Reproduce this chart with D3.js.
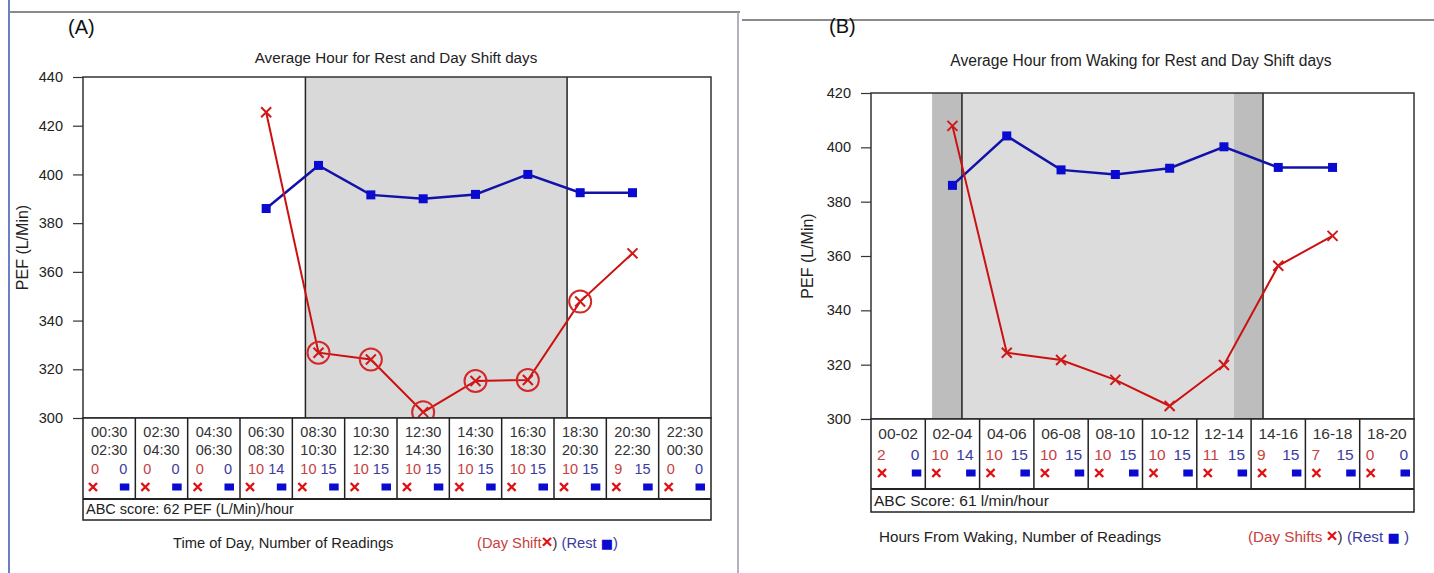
<!DOCTYPE html>
<html><head><meta charset="utf-8">
<script src="https://cdn.jsdelivr.net/npm/d3@7"></script>
<style>
body{margin:0;background:#fff}
svg{display:block}
text{font-family:"Liberation Sans",Arial,sans-serif}
</style>
</head><body>
<svg id="c" width="1434" height="573"></svg>
<script>
// ---------------- Panel A data ----------------
const aTitle = "Average Hour for Rest and Day Shift days";
const aFrom = ["00:30","02:30","04:30","06:30","08:30","10:30","12:30","14:30","16:30","18:30","20:30","22:30"];
const aTo   = ["02:30","04:30","06:30","08:30","10:30","12:30","14:30","16:30","18:30","20:30","22:30","00:30"];
const aDayCount  = [0,0,0,10,10,10,10,10,10,10,9,0];
const aRestCount = [0,0,0,14,15,15,15,15,15,15,15,0];
const aDayShift  = [null,null,null,425.5,326.8,324.0,302.4,315.2,315.6,347.8,367.6,null];
const aRest      = [null,null,null,386.0,403.7,391.6,390.0,391.8,400.0,392.5,392.5,null];
const aCircled   = [false,false,false,false,true,true,true,true,true,true,false,false];
const aYTicks = [300,320,340,360,380,400,420,440];
const aShift = [9, 19];            // shift hours (clock)
const aScore = "ABC score: 62 PEF (L/Min)/hour";
const aXLabel = "Time of Day, Number of Readings";

// ---------------- Panel B data ----------------
const bTitle = "Average Hour from Waking for Rest and Day Shift days";
const bLabels = ["00-02","02-04","04-06","06-08","08-10","10-12","12-14","14-16","16-18","18-20"];
const bDayCount  = [2,10,10,10,10,10,11,9,7,0];
const bRestCount = [0,14,15,15,15,15,15,15,15,0];
const bDayShift  = [null,407.9,324.4,321.7,314.4,304.8,319.9,356.4,367.4,null];
const bRest      = [null,386.0,404.2,391.7,390.0,392.3,400.2,392.6,392.6,null];
const bYTicks = [300,320,340,360,380,400,420];
const bShiftOuter = [2.25, 14.44];  // hours from waking (range)
const bShiftInner = [3.35, 13.37];  // hours from waking (mean)
const bScore = "ABC Score: 61 l/min/hour";
const bXLabel = "Hours From Waking, Number of Readings";

const svg = d3.select("#c");
const RED = "#d01818", BLUE = "#0a0ad0", REDLINE = "#cc1010", BLUELINE = "#1212a8";
const RED_TXT = "#c84040", BLUE_TXT = "#3a3aa0";

// page frame lines
svg.append("line").attr("x1",9).attr("x2",9).attr("y1",0).attr("y2",573).attr("stroke","#3a55b0").attr("stroke-width",1.5);
svg.append("line").attr("x1",9).attr("x2",740).attr("y1",12).attr("y2",12).attr("stroke","#8a8a8a").attr("stroke-width",2);
svg.append("line").attr("x1",738).attr("x2",738).attr("y1",12).attr("y2",573).attr("stroke","#9a9aa8").attr("stroke-width",1.5);
svg.append("line").attr("x1",742).attr("x2",1434).attr("y1",20).attr("y2",20).attr("stroke","#8a8a8a").attr("stroke-width",2);

function xMark(g, cx, cy, s, color, w){
  g.append("path").attr("d",`M${cx-s},${cy-s}L${cx+s},${cy+s}M${cx-s},${cy+s}L${cx+s},${cy-s}`)
   .attr("stroke",color).attr("stroke-width",w).attr("fill","none");
}

function drawPanel(p){
  const g = svg.append("g");
  const n = p.rows[0].length;
  const x = d3.scaleLinear().domain(p.hourDomain).range([p.left, p.right]);
  const y = d3.scaleLinear().domain(d3.extent(p.yTicks)).range([p.bottom, p.top]);
  const colStart = i => p.hourDomain[0] + 2*i;
  const colMid = i => colStart(i) + 1;

  // shading
  p.bands.forEach(b => {
    g.append("rect").attr("x",x(b[0])).attr("y",p.top).attr("width",x(b[1])-x(b[0])).attr("height",p.bottom-p.top).attr("fill",b[2]);
  });
  p.vlines.forEach(h => {
    g.append("line").attr("x1",x(h)).attr("x2",x(h)).attr("y1",p.top).attr("y2",p.bottom).attr("stroke","#222").attr("stroke-width",1.5);
  });
  g.append("rect").attr("x",p.left).attr("y",p.top).attr("width",p.right-p.left).attr("height",p.bottom-p.top)
    .attr("fill","none").attr("stroke","#333").attr("stroke-width",1.5);

  // y axis
  const ax = g.append("g").attr("transform",`translate(${p.left},0)`)
    .call(d3.axisLeft(y).tickValues(p.yTicks).tickSize(10).tickPadding(10).tickFormat(d3.format("d")));
  ax.select(".domain").remove();
  ax.selectAll(".tick line").attr("stroke","#333").attr("stroke-width",1.2);
  ax.selectAll(".tick text").attr("font-size",14.5).attr("fill","#222").attr("font-family","Liberation Sans, Arial, sans-serif");

  // y label
  g.append("text").attr("transform",`translate(${p.yLabelX},${(p.top+p.bottom)/2 + p.yLabelDy}) rotate(-90)`)
    .attr("text-anchor","middle").attr("font-size",16).attr("fill","#222").text("PEF  (L/Min)");

  // title and panel letter
  g.append("text").attr("x",p.titleX).attr("y",p.titleY).attr("text-anchor","middle").attr("font-size",p.titleSize).attr("fill","#222").text(p.title);
  g.append("text").attr("x",p.letterX).attr("y",p.letterY).attr("font-size",20).attr("fill","#111").text(p.letter);

  // lines
  const line = d3.line().defined(d => d.v != null).x(d => x(d.h)).y(d => y(d.v));
  const restPts = p.rest.map((v,i) => ({h: colMid(i), v}));
  const dayPts = p.day.map((v,i) => ({h: colMid(i), v}));
  g.append("path").datum(restPts).attr("d",line).attr("fill","none").attr("stroke",BLUELINE).attr("stroke-width",2.5);
  g.append("path").datum(dayPts).attr("d",line).attr("fill","none").attr("stroke",REDLINE).attr("stroke-width",2);
  restPts.filter(d => d.v != null).forEach(d => {
    g.append("rect").attr("x",x(d.h)-4.5).attr("y",y(d.v)-4.5).attr("width",9).attr("height",9).attr("fill",BLUE);
  });
  dayPts.forEach((d,i) => {
    if (d.v == null) return;
    xMark(g, x(d.h), y(d.v), 5, RED, 2);
    if (p.circled && p.circled[i]) {
      g.append("circle").attr("cx",x(d.h)).attr("cy",y(d.v)).attr("r",11).attr("fill","none").attr("stroke","#d42828").attr("stroke-width",2);
    }
  });

  // table
  const t = g.append("g");
  t.append("rect").attr("x",p.left).attr("y",p.bottom).attr("width",p.right-p.left).attr("height",p.tableBottom-p.bottom)
    .attr("fill","#fff").attr("stroke","#222").attr("stroke-width",1.5);
  t.append("line").attr("x1",p.left).attr("x2",p.right).attr("y1",p.cellBottom).attr("y2",p.cellBottom).attr("stroke","#222").attr("stroke-width",2);
  for (let i = 1; i < n; i++) {
    t.append("line").attr("x1",x(colStart(i))).attr("x2",x(colStart(i))).attr("y1",p.bottom).attr("y2",p.cellBottom).attr("stroke","#222").attr("stroke-width",1.5);
  }
  for (let i = 0; i < n; i++) {
    const x0 = x(colStart(i)), x1 = x(colStart(i)+2), xm = (x0+x1)/2;
    p.rows.forEach((r, k) => {
      t.append("text").attr("x",xm).attr("y",p.rowY[k]).attr("text-anchor","middle").attr("font-size",p.tSize).attr("fill","#333").text(r[i]);
    });
    t.append("text").attr("x",x0+p.numPad).attr("y",p.numY).attr("font-size",p.tSize).attr("fill",RED_TXT).text(p.dayCount[i]);
    t.append("text").attr("x",x1-p.numPad).attr("y",p.numY).attr("text-anchor","end").attr("font-size",p.tSize).attr("fill",BLUE_TXT).text(p.restCount[i]);
    xMark(t, x0+p.markPadL, p.markY, 4, "#e01010", 2.4);
    t.append("rect").attr("x",x1-p.markPadR-4.5).attr("y",p.markY-3.5).attr("width",9.5).attr("height",7).attr("fill",BLUE);
  }
  t.append("text").attr("x",p.left+3).attr("y",p.scoreY).attr("font-size",p.tSize).attr("fill","#222").text(p.score);

  // x label and legend
  g.append("text").attr("x",p.xLabelX).attr("y",p.xLabelY).attr("font-size",p.xSize).attr("fill","#222").text(p.xLabel);
  const lg = g.append("text").attr("x",p.legendX).attr("y",p.xLabelY).attr("font-size",p.xSize);
  lg.append("tspan").attr("fill",RED_TXT).text(p.legendDay);
  lg.append("tspan").attr("fill","#e01010").attr("font-weight","bold").attr("font-size",19).text("\u00D7");
  lg.append("tspan").attr("fill","#333").text(") ");
  lg.append("tspan").attr("fill",BLUE_TXT).text("(Rest ");
  lg.append("tspan").attr("fill",BLUE).attr("font-family","DejaVu Sans").attr("font-size",13).text("\u25A0");
  lg.append("tspan").attr("fill",BLUE_TXT).text(p.legendEnd);
}

drawPanel({
  letter:"(A)", letterX:68, letterY:34,
  title:aTitle, titleX:396, titleY:63, titleSize:15.2,
  left:83, right:711, top:77, bottom:418, hourDomain:[0.5,24.5],
  yTicks:aYTicks, yLabelX:28, yLabelDy:0,
  bands:[[aShift[0],aShift[1],"#d9d9d9"]], vlines:[aShift[0],aShift[1]],
  day:aDayShift, rest:aRest, circled:aCircled,
  rows:[aFrom,aTo], rowY:[437,455], numY:474, markY:487,
  dayCount:aDayCount, restCount:aRestCount, tSize:14.5, numPad:8, markPadL:10, markPadR:11,
  cellBottom:499, tableBottom:520, score:aScore, scoreY:514,
  xLabel:aXLabel, xLabelX:173, xLabelY:548, xSize:14.7, legendX:477, legendDay:"(Day Shift", legendEnd:")"
});

drawPanel({
  letter:"(B)", letterX:829, letterY:33,
  title:bTitle, titleX:1141, titleY:66, titleSize:15.6,
  left:871, right:1414, top:93, bottom:419, hourDomain:[0,20],
  yTicks:bYTicks, yLabelX:813, yLabelDy:0,
  bands:[[bShiftOuter[0],bShiftOuter[1],"#bdbdbd"],[bShiftInner[0],bShiftInner[1],"#dcdcdc"]],
  vlines:[bShiftInner[0],bShiftOuter[1]],
  day:bDayShift, rest:bRest, circled:null,
  rows:[bLabels], rowY:[439], numY:460, markY:473,
  dayCount:bDayCount, restCount:bRestCount, tSize:15.5, numPad:6, markPadL:11, markPadR:9,
  cellBottom:489, tableBottom:512, score:bScore, scoreY:506,
  xLabel:bXLabel, xLabelX:879, xLabelY:542, xSize:15.2, legendX:1248, legendDay:"(Day Shifts ", legendEnd:" )"
});
</script>
</body></html>
